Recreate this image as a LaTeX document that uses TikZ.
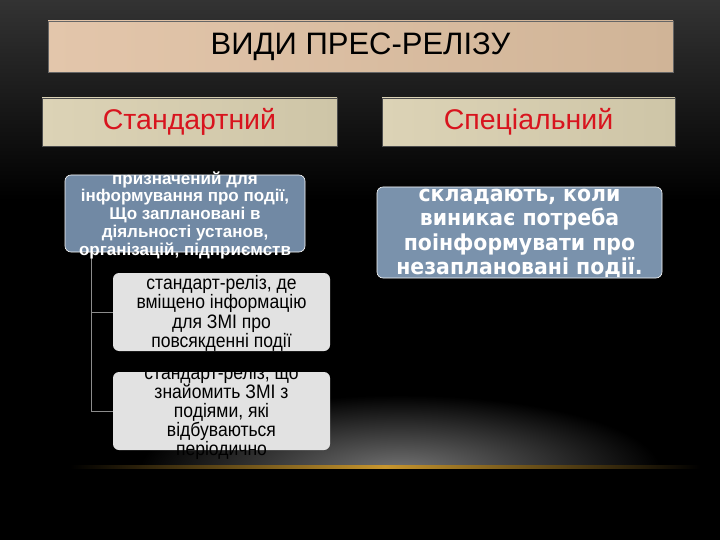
\documentclass[tikz,border=0pt]{standalone}
\usepackage{fontspec}
\setmainfont{Liberation Sans}
\newfontfamily\narrowfont[FakeStretch=0.9]{Liberation Sans}
\newfontfamily\dvfont[FakeStretch=0.93]{DejaVu Sans}
\definecolor{titleL}{HTML}{E3C6AB}
\definecolor{titleR}{HTML}{D0B497}
\definecolor{hdrL}{HTML}{DCD3B6}
\definecolor{hdrR}{HTML}{CEC5A7}
\definecolor{slate}{HTML}{7189A4}
\definecolor{slateR}{HTML}{7A92AC}
\definecolor{lightbox}{HTML}{E2E2E2}
\definecolor{hdrred}{HTML}{D8141E}
\definecolor{glowgold}{HTML}{C8962E}
\tikzset{
  titlebox/.style={rectangle, left color=titleL, right color=titleR, draw=black!60, line width=0.6pt, inner sep=0pt},
  hdrbox/.style={rectangle, left color=hdrL, right color=hdrR, draw=black!70, line width=0.6pt, inner sep=0pt},
  bluebox/.style={rectangle, rounded corners=6pt, fill=slate, draw=white, line width=0.6pt, inner sep=0pt},
  greybox/.style={rectangle, rounded corners=6pt, fill=lightbox, draw=none, inner sep=0pt},
  txt/.style={align=center, inner sep=0pt},
  conn/.style={draw=black!45, line width=0.8pt}
}
\begin{document}
\begin{tikzpicture}[x=1pt,y=-1pt]
\useasboundingbox (0,0) rectangle (720,540);
% background
\fill[black] (0,0) rectangle (720,540);
\shade[top color=black!80, bottom color=black] (0,0) rectangle (720,200);
% glow
\begin{scope}
\clip (0,300) rectangle (720,467);
\shade[inner color=black!55, outer color=black] (400,470) ellipse [x radius=260, y radius=75];
\end{scope}
\shade[left color=black, right color=black, middle color=glowgold] (70,465.5) rectangle (700,468.5);
% title
\node[titlebox, minimum width=625pt, minimum height=51pt] (title) at (360.5,46.5)
  {\fontsize{31}{32}\selectfont\raisebox{-2pt}{ВИДИ ПРЕС-РЕЛІЗУ}};
% headers
\node[hdrbox, minimum width=295pt, minimum height=48pt] (hl) at (189.5,122)
  {\fontsize{28.5}{29}\selectfont\color{hdrred}Стандартний};
\node[hdrbox, minimum width=293pt, minimum height=48pt] (hr) at (528.5,122)
  {\fontsize{28.5}{29}\selectfont\color{hdrred}Спеціальний};
% left boxes
\node[bluebox, minimum width=240pt, minimum height=77pt] (b1) at (185,213.5) {};
\node[greybox, minimum width=217pt, minimum height=78pt] (b2) at (221.5,312) {};
\node[greybox, minimum width=217pt, minimum height=78pt] (b3) at (221.5,411) {};
\draw[conn] (b1.south west) ++(27,0) |- (b2.west);
\draw[conn] (b1.south west) ++(27,0) |- (b3.west);
\node[txt, text=white, font=\bfseries\fontsize{17}{17.75}\selectfont] (t1) at (185,215)
  {призначений для\\інформування про події,\\Що заплановані в\\діяльності установ,\\організацій, підприємств};
\node[txt, text=black, font=\narrowfont\fontsize{19.5}{19.3}\selectfont] (t2) at (221.5,313.5)
  {стандарт-реліз, де\\вміщено інформацію\\для ЗМІ про\\повсякденні події};
\node[txt, text=black, font=\narrowfont\fontsize{19.5}{19}\selectfont] (t3) at (221.5,412.5)
  {стандарт-реліз, що\\знайомить ЗМІ з\\подіями, які\\відбуваються\\періодично};
% right box
\node[bluebox, fill=slateR, minimum width=285pt, minimum height=91pt] (br) at (519.5,232.5) {};
\node[txt, text=white, font=\dvfont\bfseries\fontsize{22}{24.5}\selectfont] (tr) at (519.5,233.5)
  {складають, коли\\виникає потреба\\поінформувати про\\незаплановані події.};
\end{tikzpicture}
\end{document}
